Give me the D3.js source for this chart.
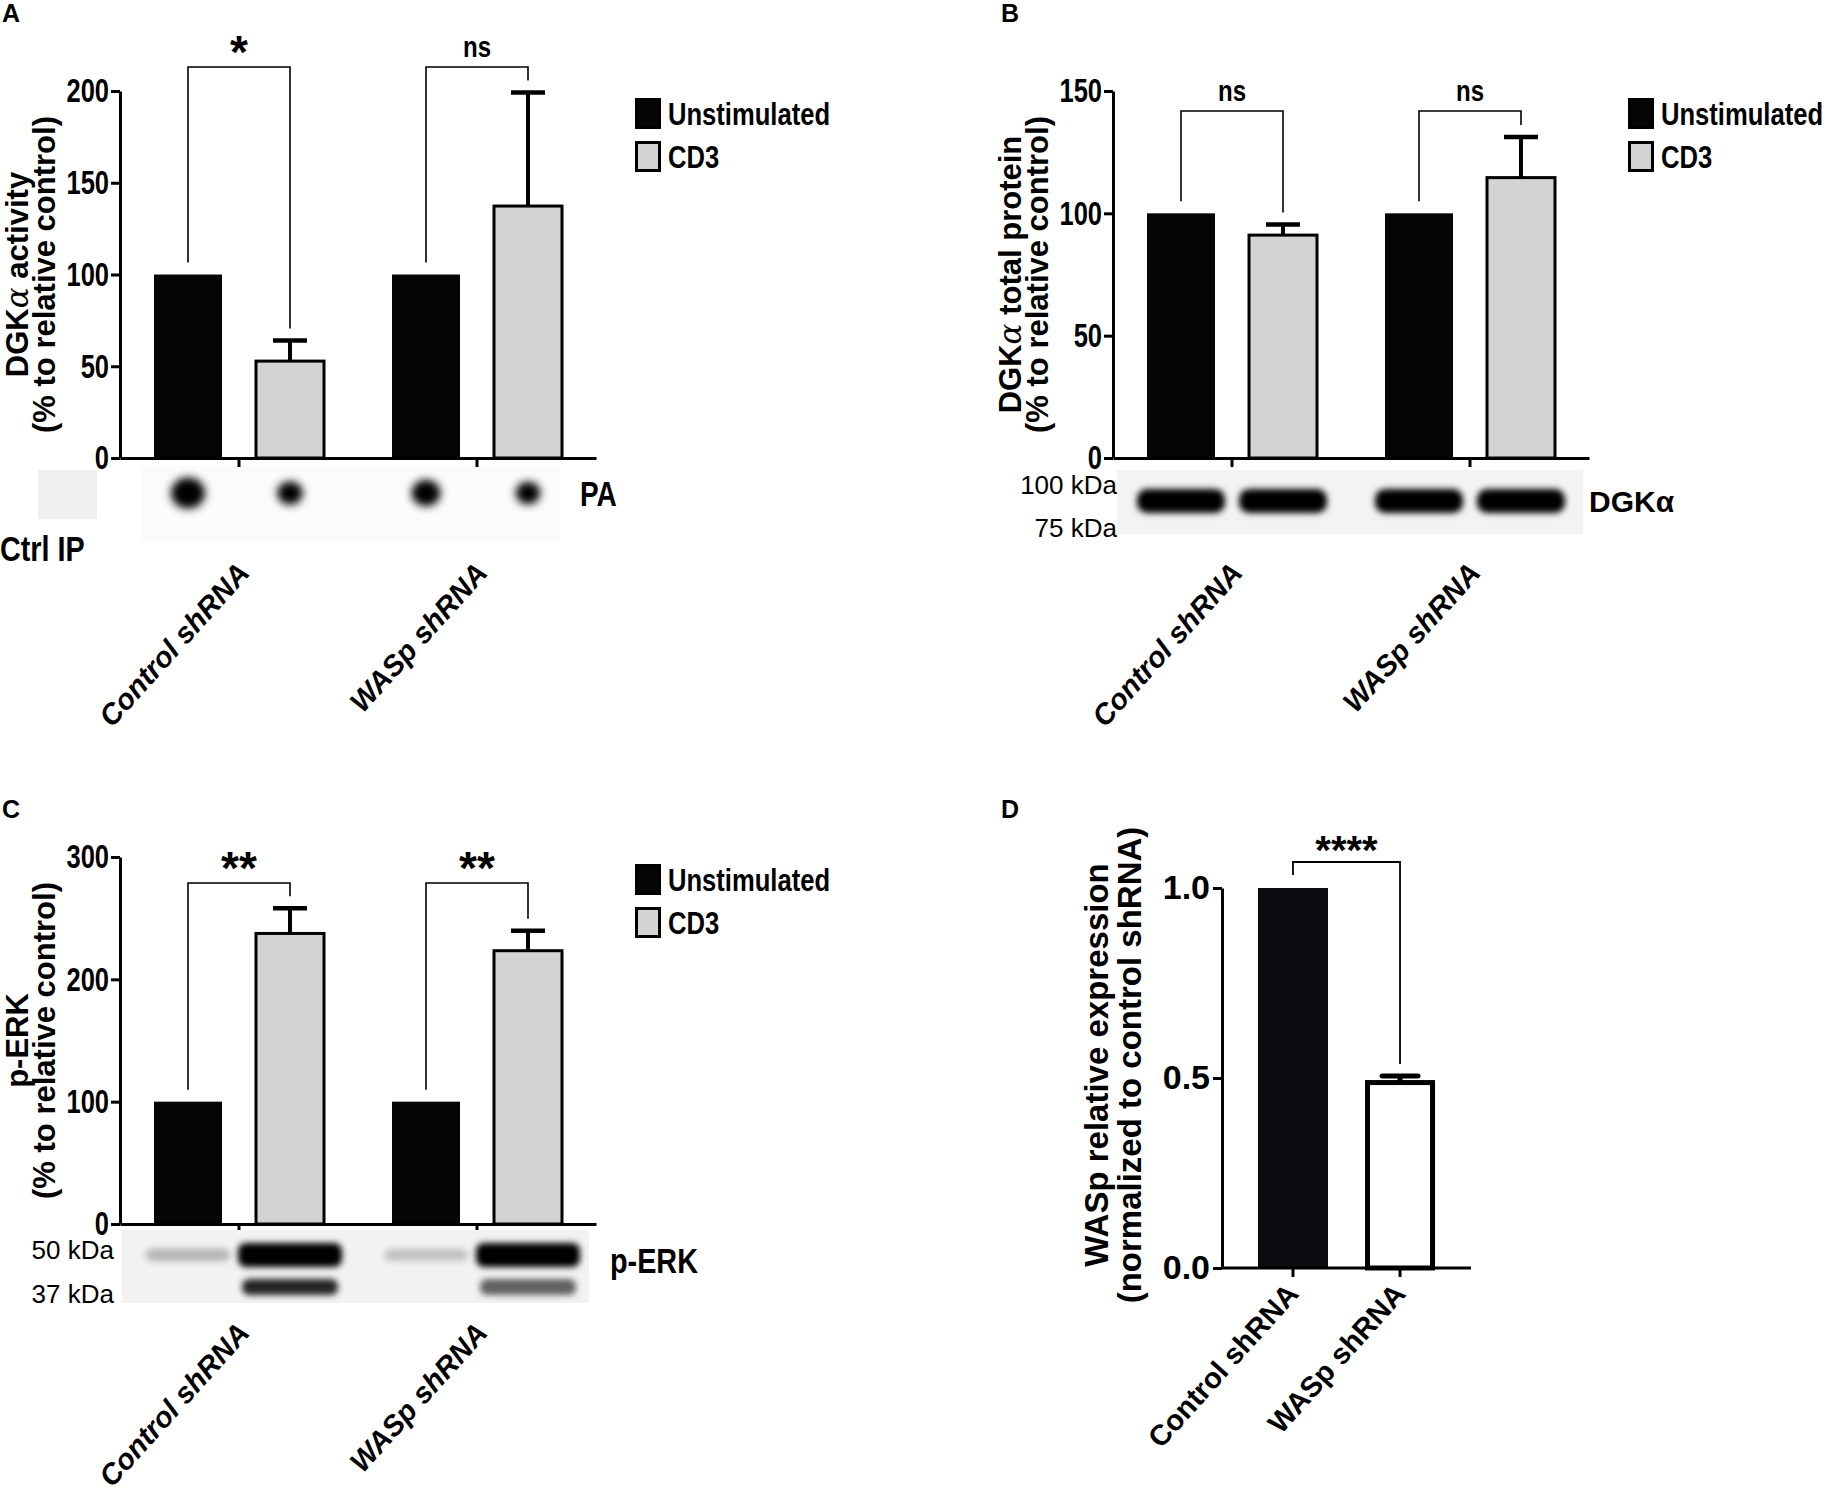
<!DOCTYPE html>
<html>
<head>
<meta charset="utf-8">
<script src="https://cdn.jsdelivr.net/npm/d3@7/dist/d3.min.js"></script>
<style>
  body { margin: 0; background: #fff; }
  svg { display: block; }
  text { font-family: "Liberation Sans", Arial, sans-serif; font-weight: bold; fill: #000; }
</style>
</head>
<body>
<svg id="fig" width="1828" height="1492"></svg>
<script>
// Shared categories
const groups = ["Control shRNA", "WASp shRNA"];
const series = ["Unstimulated", "CD3"];

// A: DGKα activity (% to relative control)
const activityUnstim = [100, 100];
const activityCD3 = [52.8, 137.3];
const activityCD3Err = [11.2, 61.9];
const activitySig = ["*", "ns"];
const activityTicks = [0, 50, 100, 150, 200];
const paSpot = [1.0, 0.75, 0.85, 0.72];        // relative spot signal, per lane

// B: DGKα total protein (% to relative control)
const proteinUnstim = [100, 100];
const proteinCD3 = [91.1, 114.6];
const proteinCD3Err = [4.3, 16.6];
const proteinSig = ["ns", "ns"];
const proteinTicks = [0, 50, 100, 150];
const dgkBand = [1, 1, 1, 1];

// C: p-ERK (% to relative control)
const perkUnstim = [100, 100];
const perkCD3 = [237.5, 223.4];
const perkCD3Err = [20.7, 16.3];
const perkSig = ["**", "**"];
const perkTicks = [0, 100, 200, 300];
const perkUpper = [0.22, 1, 0.18, 1];
const perkLower = [0.0, 0.85, 0.0, 0.6];

// D: WASp relative expression
const waspGroups = ["Control shRNA", "WASp shRNA"];
const waspMean = [1.0, 0.488];
const waspErr = [0, 0.017];
const waspSig = "****";
const waspTicks = [0, 0.5, 1.0];

const svg = d3.select("#fig");
const defs = svg.append("defs");
[["blur3", 3], ["blur4", 4.5]].forEach(([id, sd]) => {
  defs.append("filter").attr("id", id)
    .attr("x", "-50%").attr("y", "-50%").attr("width", "200%").attr("height", "200%")
    .append("feGaussianBlur").attr("stdDeviation", sd);
});

// rotated y label, alpha drawn like a symbol-font glyph
function yLabel(g, x, y, parts, size) {
  const t = g.append("text")
    .attr("transform", `translate(${x},${y}) rotate(-90)`)
    .attr("text-anchor", "middle")
    .style("font-size", size + "px");
  parts.forEach(p => {
    const s = t.append("tspan").text(p.t);
    if (p.alpha) s.style("font-family", "DejaVu Serif").style("font-style", "italic").style("font-weight", "normal");
  });
}

function styleAxis(a, fontSize, narrow) {
  a.attr("font-family", null).attr("font-size", null);
  a.select(".domain").attr("stroke-width", 3);
  a.selectAll(".tick line").attr("stroke-width", 3);
  a.selectAll(".tick text")
    .attr("class", narrow ? "narrow tight" : null)
    .style("font-size", fontSize + "px").style("font-weight", "bold");
}

function groupedPanel(p) {
  const g = svg.append("g");
  const y = d3.scaleLinear().domain([0, d3.max(p.ticks)]).range([p.bottom, p.top]);
  const x = d3.scaleBand().domain(groups).range([p.left, p.left + 476]);
  const xs = d3.scaleBand().domain(series).range([0, x.bandwidth()])
    .paddingInner(1 / 3).paddingOuter(1 / 3);

  const data = groups.flatMap((grp, i) => [
    { grp, s: series[0], v: p.unstim[i], e: 0 },
    { grp, s: series[1], v: p.cd3[i], e: p.cd3Err[i] }
  ]);
  const cx = d => x(d.grp) + xs(d.s) + xs.bandwidth() / 2;

  // error bars (upper only), drawn under the bars
  const err = data.filter(d => d.e > 0);
  g.selectAll(".err").data(err).join("line")
    .attr("x1", cx).attr("x2", cx)
    .attr("y1", d => y(d.v)).attr("y2", d => y(d.v + d.e))
    .attr("stroke", "#000").attr("stroke-width", 4);
  g.selectAll(".cap").data(err).join("line")
    .attr("x1", d => cx(d) - 17).attr("x2", d => cx(d) + 17)
    .attr("y1", d => y(d.v + d.e)).attr("y2", d => y(d.v + d.e))
    .attr("stroke", "#000").attr("stroke-width", 4.5);

  g.selectAll(".bar").data(data).join("rect")
    .attr("x", d => x(d.grp) + xs(d.s))
    .attr("width", xs.bandwidth())
    .attr("y", d => y(d.v))
    .attr("height", d => y(0) - y(d.v))
    .attr("fill", d => d.s === "CD3" ? "#d3d3d3" : "#050505")
    .attr("stroke", d => d.s === "CD3" ? "#000" : "none")
    .attr("stroke-width", 3);

  // axes
  const ya = g.append("g").attr("transform", `translate(${p.left},0)`)
    .call(d3.axisLeft(y).tickValues(p.ticks).tickSize(9).tickSizeOuter(0).tickPadding(2).tickFormat(d3.format("d")));
  styleAxis(ya, 34, true);
  const xa = g.append("g").attr("transform", `translate(0,${p.bottom})`)
    .call(d3.axisBottom(x).tickSize(9).tickSizeOuter(0).tickFormat(""));
  styleAxis(xa, 10, true);

  // significance brackets
  groups.forEach((grp, i) => {
    const a = data[i * 2], b = data[i * 2 + 1];
    const x1 = cx(a), x2 = cx(b), by = p.bracketY;
    const path = d3.path();
    path.moveTo(x1, y(a.v + a.e) - 12);
    path.lineTo(x1, by);
    path.lineTo(x2, by);
    path.lineTo(x2, y(b.v + b.e) - 12);
    g.append("path").attr("d", path.toString())
      .attr("fill", "none").attr("stroke", "#000").attr("stroke-width", 1.6);
    const mid = (x1 + x2) / 2;
    if (p.sig[i] === "ns") {
      g.append("text").attr("class", "narrow").attr("x", mid).attr("y", by - 10)
        .attr("text-anchor", "middle").style("font-size", "30px").text("ns");
    } else {
      g.append("text").attr("x", mid).attr("y", by + 1)
        .attr("text-anchor", "middle").style("font-size", "46px").text(p.sig[i]);
    }
  });

  // legend
  const lg = g.append("g").attr("transform", `translate(${p.left + 515},${p.top + 7})`);
  series.forEach((s, i) => {
    lg.append("rect").attr("x", 1.5).attr("y", i * 43 + 1.5).attr("width", 23).attr("height", 28)
      .attr("fill", i ? "#d3d3d3" : "#050505").attr("stroke", "#000").attr("stroke-width", 3);
    lg.append("text").attr("class", "narrow").attr("x", 33).attr("y", i * 43 + 15)
      .attr("dy", "0.36em").style("font-size", "32px").text(s);
  });

  yLabel(g, p.left - 92, (p.top + p.bottom) / 2, p.label1, 31);
  yLabel(g, p.left - 65, (p.top + p.bottom) / 2, p.label2, 31);

  // group labels below the blot
  g.selectAll(".cat").data(groups).join("text")
    .attr("transform", d => `translate(${x(d) + x.bandwidth() / 2 + 12},${p.labelY}) rotate(-48)`)
    .attr("text-anchor", "end").style("font-style", "italic").style("font-size", "29px")
    .text(d => d);

  return { g, x, xs, y, lanes: data.map(cx) };
}

// ---------- Panel A ----------
const A = groupedPanel({
  left: 120, bottom: 458, top: 91, ticks: activityTicks,
  unstim: activityUnstim, cd3: activityCD3, cd3Err: activityCD3Err, sig: activitySig,
  bracketY: 67, labelY: 574,
  label1: [{ t: "DGK" }, { t: "α", alpha: true }, { t: " activity" }],
  label2: [{ t: "(% to relative control)" }]
});
{
  const g = A.g, b = 458;
  g.insert("rect", ":first-child").attr("x", 142).attr("y", b + 8).attr("width", 418).attr("height", 76).attr("fill", "#fbfbfb");
  g.append("rect").attr("x", 38).attr("y", b + 12).attr("width", 59).attr("height", 49).attr("fill", "#efefef");
  g.selectAll(".spot").data(paSpot).join("ellipse")
    .attr("cx", (d, i) => A.lanes[i]).attr("cy", b + 35)
    .attr("rx", d => 17 * d).attr("ry", d => 15.5 * d)
    .attr("fill", "#000").attr("filter", "url(#blur4)");
  g.append("text").attr("class", "narrow").attr("x", 580).attr("y", b + 35).attr("dy", "0.36em")
    .style("font-size", "35px").text("PA");
  g.append("text").attr("class", "narrow").attr("x", 0).attr("y", b + 90).attr("dy", "0.36em")
    .style("font-size", "36px").text("Ctrl IP");
}

// ---------- Panel B ----------
const B = groupedPanel({
  left: 1113, bottom: 458, top: 91, ticks: proteinTicks,
  unstim: proteinUnstim, cd3: proteinCD3, cd3Err: proteinCD3Err, sig: proteinSig,
  bracketY: 111, labelY: 574,
  label1: [{ t: "DGK" }, { t: "α", alpha: true }, { t: " total protein" }],
  label2: [{ t: "(% to relative control)" }]
});
{
  const g = B.g, b = 458, L = 1113;
  g.append("rect").attr("x", L + 4).attr("y", b + 12).attr("width", 466).attr("height", 64).attr("fill", "#f3f3f3");
  g.selectAll(".band").data(dgkBand).join("rect")
    .attr("x", (d, i) => B.lanes[i] - 44).attr("y", b + 31)
    .attr("width", 88).attr("height", 24).attr("rx", 10)
    .attr("fill", "#000").attr("fill-opacity", d => d).attr("filter", "url(#blur3)");
  g.append("text").attr("x", L + 4).attr("y", b + 27).attr("dy", "0.36em").attr("text-anchor", "end")
    .style("font-weight", "normal").style("font-size", "26px").text("100 kDa");
  g.append("text").attr("x", L + 4).attr("y", b + 70).attr("dy", "0.36em").attr("text-anchor", "end")
    .style("font-weight", "normal").style("font-size", "26px").text("75 kDa");
  g.append("text").attr("x", L + 476).attr("y", b + 43).attr("dy", "0.36em")
    .style("font-size", "30px").text("DGKα");
}

// ---------- Panel C ----------
const C = groupedPanel({
  left: 120, bottom: 1224, top: 857, ticks: perkTicks,
  unstim: perkUnstim, cd3: perkCD3, cd3Err: perkCD3Err, sig: perkSig,
  bracketY: 883, labelY: 1334,
  label1: [{ t: "p-ERK" }],
  label2: [{ t: "(% to relative control)" }]
});
{
  const g = C.g, b = 1224, L = 120;
  g.append("rect").attr("x", L + 2).attr("y", b + 6).attr("width", 467).attr("height", 73).attr("fill", "#f2f2f2");
  g.selectAll(".up").data(perkUpper).join("rect")
    .attr("x", (d, i) => C.lanes[i] - 40 - 12 * d).attr("y", d => b + 31 - 5 - 7 * d)
    .attr("width", d => 80 + 24 * d).attr("height", d => 10 + 14 * d).attr("rx", 8)
    .attr("fill", "#000").attr("fill-opacity", d => Math.min(1, d * 1.1)).attr("filter", "url(#blur3)");
  g.selectAll(".lo").data(perkLower).join("rect")
    .attr("x", (d, i) => C.lanes[i] - 48).attr("y", b + 55)
    .attr("width", 96).attr("height", 16).attr("rx", 7)
    .attr("fill", "#000").attr("fill-opacity", d => d).attr("filter", "url(#blur3)");
  g.append("text").attr("x", L - 6).attr("y", b + 26).attr("dy", "0.36em").attr("text-anchor", "end")
    .style("font-weight", "normal").style("font-size", "26px").text("50 kDa");
  g.append("text").attr("x", L - 6).attr("y", b + 70).attr("dy", "0.36em").attr("text-anchor", "end")
    .style("font-weight", "normal").style("font-size", "26px").text("37 kDa");
  g.append("text").attr("class", "narrow").attr("x", 610).attr("y", b + 36).attr("dy", "0.36em")
    .style("font-size", "36px").text("p-ERK");
}

// ---------- Panel D ----------
{
  const left = 1222, bottom = 1268, top = 888;
  const g = svg.append("g");
  const y = d3.scaleLinear().domain([0, d3.max(waspTicks)]).range([bottom, top]);
  const x = d3.scaleBand().domain(waspGroups).range([left, left + 249])
    .paddingInner(0.346).paddingOuter(0.336);
  const data = waspGroups.map((grp, i) => ({ grp, v: waspMean[i], e: waspErr[i], i }));
  const cx = d => x(d.grp) + x.bandwidth() / 2;

  const err = data.filter(d => d.e > 0);
  g.selectAll(".err").data(err).join("line")
    .attr("x1", cx).attr("x2", cx).attr("y1", d => y(d.v)).attr("y2", d => y(d.v + d.e))
    .attr("stroke", "#000").attr("stroke-width", 5);
  g.selectAll(".cap").data(err).join("line")
    .attr("x1", d => cx(d) - 18).attr("x2", d => cx(d) + 18)
    .attr("y1", d => y(d.v + d.e)).attr("y2", d => y(d.v + d.e))
    .attr("stroke", "#000").attr("stroke-width", 5).attr("stroke-linecap", "round");

  g.selectAll(".bar").data(data).join("rect")
    .attr("x", d => x(d.grp) + (d.i ? 2.5 : 0))
    .attr("width", d => x.bandwidth() - (d.i ? 5 : 0))
    .attr("y", d => y(d.v))
    .attr("height", d => y(0) - y(d.v))
    .attr("fill", d => d.i ? "#fff" : "#0a0a0f")
    .attr("stroke", d => d.i ? "#000" : "none").attr("stroke-width", 5);

  const ya = g.append("g").attr("transform", `translate(${left},0)`)
    .call(d3.axisLeft(y).tickValues(waspTicks).tickSize(9).tickSizeOuter(0).tickPadding(3).tickFormat(d3.format(".1f")));
  styleAxis(ya, 34, false);
  const xa = g.append("g").attr("transform", `translate(0,${bottom})`)
    .call(d3.axisBottom(x).tickSize(9).tickSizeOuter(0).tickFormat(""));
  styleAxis(xa, 10, false);
  xa.select(".domain").attr("d", `M${left},0H${left + 249}`);

  const a = data[0], b = data[1], by = 862;
  const path = d3.path();
  path.moveTo(cx(a), y(a.v + a.e) - 13);
  path.lineTo(cx(a), by);
  path.lineTo(cx(b), by);
  path.lineTo(cx(b), y(b.v + b.e) - 12);
  g.append("path").attr("d", path.toString()).attr("fill", "none").attr("stroke", "#000").attr("stroke-width", 1.8);
  g.append("text").attr("x", (cx(a) + cx(b)) / 2).attr("y", by + 2).attr("text-anchor", "middle")
    .style("font-size", "40px").text(waspSig);

  yLabel(g, left - 114, 1065, [{ t: "WASp relative expression" }], 33);
  yLabel(g, left - 81, 1065, [{ t: "(normalized to control shRNA)" }], 33);

  g.selectAll(".cat").data(waspGroups).join("text")
    .attr("transform", d => `translate(${x(d) + x.bandwidth() / 2 + 7},${bottom + 27}) rotate(-48)`)
    .attr("text-anchor", "end").style("font-size", "29px").text(d => d);
}

// panel letters
[["A", 2, 22], ["B", 1001, 22], ["C", 2, 818], ["D", 1001, 818]].forEach(([t, x, y]) => {
  svg.append("text").attr("x", x).attr("y", y).style("font-size", "25px").text(t);
});

// condensed look (no narrow face installed): squeeze these texts horizontally about their anchor
svg.selectAll("text.narrow").each(function () {
  const ax = +this.getAttribute("x") || 0;
  const k = this.classList.contains("tight") ? 0.75 : 0.8;
  d3.select(this).attr("transform", `translate(${ax},0) scale(${k},1) translate(${-ax},0)`);
});
</script>
</body>
</html>
